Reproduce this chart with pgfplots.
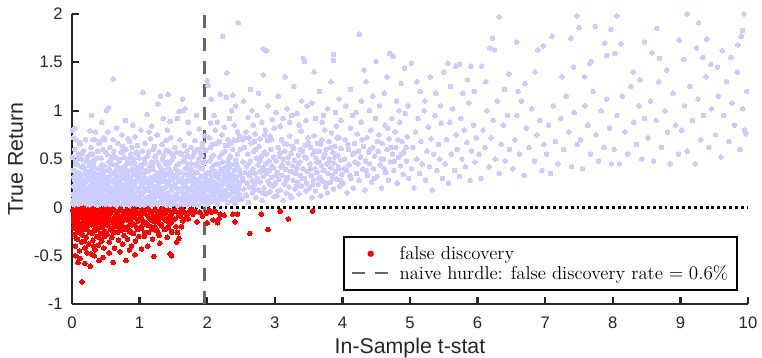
\documentclass[border=0pt]{standalone}
\usepackage{fontspec}
\setsansfont{Liberation Sans}
\usepackage{pgfplots}
\pgfplotsset{compat=1.18}
\definecolor{lav}{RGB}{204,204,255}
\definecolor{axc}{RGB}{38,38,38}
\definecolor{hurdle}{RGB}{102,102,102}
\begin{document}
\begin{tikzpicture}
\useasboundingbox (-54pt,-39.75pt) rectangle (517.5pt,228pt);
\begin{axis}[
  at={(0,0)}, anchor=south west,
  scale only axis, width=507pt, height=217.5pt,
  xmin=0, xmax=10, ymin=-1, ymax=2,
  clip=false,
  axis lines=left,
  axis line style={-, line width=1.7pt, color=axc},
  tick align=inside,
  major tick length=5pt,
  tick style={line width=1.7pt, color=axc},
  xtick={0,1,2,3,4,5,6,7,8,9,10},
  ytick={-1,-0.5,0,0.5,1,1.5,2},
  /pgf/number format/assume math mode=true,
  ticklabel style={font=\sffamily\fontsize{12.5}{14}\selectfont, text=axc},
  xticklabel style={inner sep=0pt, anchor=north, yshift=-9.5pt},
  yticklabel style={inner sep=0pt, anchor=east, xshift=-6.75pt},
  every axis x label/.style={at={([yshift=-25.5pt]axis description cs:0.5,0)}, anchor=north, inner sep=0pt, font=\sffamily\fontsize{16}{18}\selectfont, text=axc},
  every axis y label/.style={at={([xshift=-36.5pt]axis description cs:0,0.5)}, rotate=90, anchor=south, inner sep=0pt, font=\sffamily\fontsize{16}{18}\selectfont, text=axc},
  xlabel={In-Sample t-stat},
  ylabel={True Return},
  legend cell align=left,
  legend style={at={(0.985,0.045)}, anchor=south east, draw=black, line width=1.5pt,
    font=\fontsize{14}{16}\selectfont, inner xsep=5pt, inner ysep=5pt,
    nodes={inner sep=1.5pt}, column sep=5.5pt, row sep=0pt},
]
% ---------- lavender: true return > 0 ----------
\addplot[only marks, color=lav, mark=*, mark size=1.75pt, mark options={draw=lav, fill=lav, line width=0pt}, forget plot] coordinates {
(0.01,0.05) (0.03,0.21) (0.02,0.38) (0.05,0.12) (0.06,0.30) (0.04,0.02) (0.08,0.44) (0.09,0.17) (0.10,0.07) (0.11,0.26) (0.12,0.35) (0.13,0.01) (0.14,0.19) (0.15,0.41) (0.16,0.10) (0.17,0.29) (0.18,0.05) (0.19,0.23) (0.20,0.36) (0.21,0.14) (0.22,0.03) (0.23,0.31) (0.24,0.20) (0.25,0.09) (0.26,0.43) (0.27,0.16) (0.28,0.27) (0.29,0.01) (0.30,0.38) (0.31,0.12) (0.32,0.22) (0.33,0.06) (0.34,0.33) (0.35,0.18) (0.36,0.02) (0.37,0.26) (0.38,0.40) (0.39,0.11) (0.40,0.30) (0.41,0.04) (0.42,0.21) (0.43,0.35) (0.44,0.15) (0.45,0.08) (0.46,0.28) (0.47,0.43) (0.48,0.19) (0.49,0.02)
(0.02,0.14) (0.04,0.28) (0.06,0.08) (0.07,0.36) (0.09,0.25) (0.11,0.02) (0.12,0.15) (0.14,0.32) (0.16,0.23) (0.17,0.06) (0.19,0.39) (0.21,0.27) (0.22,0.11) (0.24,0.02) (0.26,0.33) (0.27,0.07) (0.29,0.18) (0.31,0.29) (0.32,0.42) (0.34,0.10) (0.36,0.24) (0.37,0.15) (0.39,0.34) (0.41,0.17) (0.42,0.06) (0.44,0.26) (0.46,0.12) (0.47,0.37) (0.49,0.24)
(0.03,0.09) (0.05,0.34) (0.08,0.20) (0.10,0.31) (0.13,0.24) (0.15,0.04) (0.18,0.13) (0.20,0.27) (0.23,0.08) (0.25,0.37) (0.28,0.12) (0.30,0.21) (0.33,0.28) (0.35,0.03) (0.38,0.19) (0.40,0.09) (0.43,0.24) (0.45,0.33) (0.48,0.07)
(0.01,0.52) (0.02,0.72) (0.01,0.80) (0.04,0.60) (0.06,0.48) (0.09,0.55) (0.12,0.65) (0.14,0.50) (0.17,0.58) (0.20,0.70) (0.23,0.52) (0.25,0.47) (0.28,0.62) (0.30,0.55) (0.33,0.49) (0.35,0.78) (0.38,0.58) (0.40,0.66) (0.43,0.51) (0.46,0.60) (0.48,0.70) (0.29,0.95) (0.41,0.68) (0.15,0.56) (0.04,0.82) (0.27,0.79) (0.44,0.88) (0.31,0.70) (0.34,0.70) (0.47,0.72) (0.12,0.67) (0.05,0.70)
(0.51,0.12) (0.52,0.31) (0.53,0.03) (0.54,0.22) (0.55,0.40) (0.56,0.15) (0.57,0.27) (0.58,0.07) (0.59,0.36) (0.60,0.19) (0.61,0.01) (0.62,0.29) (0.63,0.44) (0.64,0.11) (0.65,0.24) (0.66,0.05) (0.67,0.33) (0.68,0.17) (0.69,0.41) (0.70,0.09) (0.71,0.26) (0.72,0.02) (0.73,0.37) (0.74,0.14) (0.75,0.30) (0.76,0.21) (0.77,0.06) (0.78,0.43) (0.79,0.16) (0.80,0.28) (0.81,0.03) (0.82,0.35) (0.83,0.12) (0.84,0.23) (0.85,0.46) (0.86,0.08) (0.87,0.31) (0.88,0.18) (0.89,0.39) (0.90,0.04) (0.91,0.25) (0.92,0.14) (0.93,0.34) (0.94,0.07) (0.95,0.42) (0.96,0.20) (0.97,0.29) (0.98,0.10) (0.99,0.37)
(0.51,0.26) (0.53,0.38) (0.55,0.08) (0.56,0.33) (0.58,0.20) (0.60,0.06) (0.62,0.16) (0.63,0.25) (0.65,0.38) (0.67,0.13) (0.68,0.02) (0.70,0.22) (0.72,0.31) (0.73,0.10) (0.75,0.04) (0.77,0.35) (0.78,0.24) (0.80,0.12) (0.82,0.19) (0.84,0.05) (0.85,0.30) (0.87,0.15) (0.88,0.45) (0.90,0.27) (0.92,0.02) (0.93,0.21) (0.95,0.11) (0.97,0.06) (0.98,0.33)
(0.52,0.18) (0.57,0.45) (0.59,0.11) (0.64,0.34) (0.66,0.21) (0.69,0.28) (0.71,0.15) (0.74,0.40) (0.76,0.10) (0.79,0.05) (0.81,0.38) (0.83,0.27) (0.86,0.20) (0.89,0.11) (0.91,0.35) (0.94,0.26) (0.96,0.03) (0.99,0.16)
(0.51,1.00) (0.54,1.03) (0.61,1.33) (0.53,0.78) (0.61,0.70) (0.74,0.75) (0.83,0.71) (0.52,0.55) (0.56,0.62) (0.58,0.50) (0.62,0.58) (0.65,0.52) (0.68,0.66) (0.70,0.48) (0.72,0.57) (0.75,0.63) (0.77,0.52) (0.80,0.60) (0.82,0.49) (0.85,0.68) (0.87,0.55) (0.89,0.62) (0.91,0.50) (0.93,0.73) (0.95,0.57) (0.97,0.64) (0.99,0.51) (0.66,0.82) (0.90,0.85) (0.79,0.90)
(1.01,0.08) (1.02,0.27) (1.03,0.41) (1.04,0.15) (1.05,0.02) (1.06,0.33) (1.07,0.20) (1.08,0.46) (1.09,0.10) (1.10,0.29) (1.11,0.05) (1.12,0.37) (1.13,0.18) (1.14,0.24) (1.15,0.43) (1.16,0.12) (1.17,0.31) (1.18,0.03) (1.19,0.22) (1.20,0.39) (1.21,0.14) (1.22,0.07) (1.23,0.28) (1.24,0.48) (1.25,0.17) (1.26,0.35) (1.27,0.04) (1.28,0.25) (1.29,0.11) (1.30,0.42) (1.31,0.20) (1.32,0.32) (1.33,0.06) (1.34,0.15) (1.35,0.38) (1.36,0.27) (1.37,0.09) (1.38,0.45) (1.39,0.21) (1.40,0.02) (1.41,0.34) (1.42,0.13) (1.43,0.26) (1.44,0.40) (1.45,0.08) (1.46,0.30) (1.47,0.18) (1.48,0.49) (1.49,0.11)
(1.01,0.35) (1.03,0.13) (1.05,0.24) (1.07,0.06) (1.09,0.38) (1.11,0.19) (1.13,0.02) (1.15,0.28) (1.17,0.09) (1.19,0.44) (1.21,0.30) (1.23,0.16) (1.25,0.01) (1.27,0.23) (1.29,0.36) (1.31,0.05) (1.33,0.27) (1.35,0.14) (1.37,0.33) (1.39,0.10) (1.41,0.47) (1.43,0.04) (1.45,0.22) (1.47,0.36) (1.49,0.29)
(1.05,1.19) (1.11,0.96) (1.14,0.78) (1.02,0.80) (1.27,1.07) (1.31,1.15) (1.42,1.17) (1.45,0.89) (1.41,0.80) (1.04,0.58) (1.08,0.66) (1.12,0.53) (1.16,0.71) (1.20,0.60) (1.23,0.52) (1.26,0.75) (1.29,0.57) (1.33,0.65) (1.36,0.54) (1.39,0.69) (1.43,0.58) (1.46,0.72) (1.48,0.55) (1.18,0.84) (1.35,0.92) (1.22,0.63)
(1.51,0.05) (1.52,0.24) (1.53,0.40) (1.54,0.13) (1.55,0.31) (1.56,0.02) (1.57,0.19) (1.58,0.45) (1.59,0.09) (1.60,0.28) (1.61,0.36) (1.62,0.16) (1.63,0.05) (1.64,0.25) (1.65,0.48) (1.66,0.11) (1.67,0.34) (1.68,0.21) (1.69,0.03) (1.70,0.41) (1.71,0.14) (1.72,0.29) (1.73,0.07) (1.74,0.38) (1.75,0.19) (1.76,0.51) (1.77,0.10) (1.78,0.26) (1.79,0.33) (1.80,0.04) (1.81,0.17) (1.82,0.44) (1.83,0.23) (1.84,0.12) (1.85,0.36) (1.86,0.02) (1.87,0.28) (1.88,0.47) (1.89,0.15) (1.90,0.08) (1.91,0.32) (1.92,0.21) (1.93,0.40) (1.94,0.06) (1.95,0.25) (1.97,0.14) (1.98,0.35) (1.99,0.03)
(1.51,0.33) (1.53,0.10) (1.55,0.20) (1.57,0.37) (1.59,0.17) (1.61,0.07) (1.63,0.30) (1.65,0.21) (1.67,0.12) (1.69,0.26) (1.71,0.45) (1.73,0.18) (1.75,0.03) (1.77,0.39) (1.79,0.13) (1.81,0.29) (1.83,0.06) (1.85,0.20) (1.87,0.42) (1.89,0.25) (1.91,0.11) (1.93,0.17) (1.95,0.46) (1.97,0.30) (1.99,0.22)
(1.58,0.99) (1.64,1.12) (1.65,1.00) (1.67,1.02) (1.56,0.92) (1.52,0.62) (1.55,0.57) (1.60,0.70) (1.62,0.55) (1.66,0.64) (1.70,0.58) (1.73,0.77) (1.76,0.62) (1.79,0.54) (1.82,0.69) (1.85,0.60) (1.88,0.81) (1.90,0.56) (1.93,0.66) (1.96,0.74) (1.98,0.59) (1.72,0.88) (1.84,0.95) (1.92,0.53) (1.68,0.52)
(2.01,0.12) (2.02,0.35) (2.03,0.22) (2.04,0.48) (2.05,0.06) (2.06,0.29) (2.07,0.41) (2.08,0.17) (2.09,0.54) (2.10,0.26) (2.11,0.10) (2.12,0.37) (2.13,0.20) (2.14,0.45) (2.15,0.03) (2.16,0.31) (2.17,0.15) (2.18,0.52) (2.19,0.24) (2.20,0.39) (2.21,0.08) (2.22,0.28) (2.23,0.47) (2.24,0.18) (2.25,0.33) (2.26,0.58) (2.27,0.12) (2.28,0.42) (2.29,0.25) (2.30,0.05) (2.31,0.36) (2.32,0.50) (2.33,0.20) (2.34,0.30) (2.35,0.14) (2.36,0.44) (2.37,0.27) (2.38,0.60) (2.39,0.09) (2.40,0.38) (2.41,0.22) (2.42,0.49) (2.43,0.32) (2.44,0.16) (2.45,0.55) (2.46,0.26) (2.47,0.40) (2.48,0.11) (2.49,0.34)
(2.02,0.05) (2.04,0.26) (2.06,0.52) (2.08,0.38) (2.11,0.44) (2.13,0.07) (2.15,0.24) (2.17,0.35) (2.20,0.18) (2.22,0.56) (2.24,0.40) (2.27,0.30) (2.29,0.13) (2.31,0.47) (2.34,0.53) (2.36,0.21) (2.39,0.31) (2.41,0.04) (2.44,0.43) (2.47,0.19) (2.49,0.60)
(2.46,1.91) (2.23,1.77) (2.29,1.39) (2.00,1.31) (2.01,1.26) (2.19,1.17) (2.28,1.14) (2.06,1.12) (2.38,1.16) (2.42,1.05) (2.10,0.95) (2.15,0.88) (2.25,0.83) (2.33,0.92) (2.45,0.78) (2.03,0.72) (2.08,0.65) (2.12,0.80) (2.18,0.68) (2.22,0.75) (2.27,0.64) (2.31,0.70) (2.35,0.66) (2.40,0.85) (2.44,0.69) (2.48,0.74) (2.05,0.87) (2.36,1.00)
(2.51,0.08) (2.52,0.30) (2.53,0.47) (2.54,0.19) (2.55,0.62) (2.56,0.36) (2.57,0.13) (2.58,0.42) (2.59,0.25) (2.60,0.55) (2.61,0.05) (2.62,0.33) (2.63,0.21) (2.64,0.48) (2.65,0.66) (2.66,0.28) (2.67,0.15) (2.68,0.40) (2.69,0.58) (2.70,0.23) (2.71,0.35) (2.72,0.10) (2.73,0.51) (2.74,0.30) (2.75,0.44) (2.76,0.18) (2.77,0.63) (2.78,0.37) (2.79,0.26) (2.80,0.53) (2.81,0.07) (2.82,0.41) (2.83,0.32) (2.84,0.20) (2.85,0.57) (2.86,0.45) (2.87,0.14) (2.88,0.35) (2.89,0.69) (2.90,0.27) (2.91,0.48) (2.92,0.38) (2.93,0.16) (2.94,0.60) (2.95,0.31) (2.96,0.43) (2.97,0.22) (2.98,0.52) (2.99,0.11)
(2.83,1.64) (2.88,1.62) (2.83,1.37) (2.66,1.00) (2.54,1.10) (2.60,0.93) (2.57,0.78) (2.62,0.72) (2.68,0.85) (2.71,0.76) (2.74,0.95) (2.78,0.71) (2.81,0.88) (2.86,0.80) (2.90,1.05) (2.93,0.74) (2.96,0.91) (2.99,0.82) (2.52,0.70) (2.76,1.18) (2.64,1.22)
(3.01,0.25) (3.02,0.48) (3.03,0.12) (3.04,0.36) (3.05,0.62) (3.06,0.29) (3.07,0.53) (3.08,0.18) (3.09,0.42) (3.10,0.70) (3.11,0.33) (3.12,0.07) (3.13,0.50) (3.14,0.24) (3.15,0.58) (3.16,0.39) (3.17,0.15) (3.18,0.65) (3.19,0.31) (3.20,0.46) (3.21,0.21) (3.22,0.74) (3.23,0.37) (3.24,0.56) (3.25,0.10) (3.26,0.43) (3.27,0.28) (3.28,0.61) (3.29,0.49) (3.30,0.19) (3.31,0.35) (3.32,0.68) (3.33,0.41) (3.34,0.26) (3.35,0.54) (3.36,0.14) (3.37,0.47) (3.38,0.33) (3.39,0.79) (3.40,0.22) (3.41,0.58) (3.42,0.40) (3.44,0.30) (3.45,0.64) (3.46,0.17) (3.47,0.51) (3.48,0.37) (3.49,0.72)
(3.42,1.54) (3.44,1.51) (3.05,1.15) (3.12,0.92) (3.18,1.02) (3.22,0.88) (3.28,1.25) (3.33,0.97) (3.36,0.85) (3.40,1.10) (3.46,0.90) (3.08,0.84) (3.15,1.35) (3.25,0.95) (3.48,1.05) (3.02,0.98)
(3.51,0.20) (3.52,0.45) (3.53,0.62) (3.54,0.33) (3.55,0.10) (3.56,0.55) (3.57,0.28) (3.58,0.74) (3.59,0.40) (3.60,0.17) (3.61,0.51) (3.62,0.36) (3.63,0.66) (3.64,0.24) (3.65,0.47) (3.66,0.58) (3.67,0.31) (3.68,0.12) (3.69,0.43) (3.70,0.70) (3.71,0.27) (3.72,0.52) (3.73,0.38) (3.74,0.80) (3.75,0.21) (3.76,0.60) (3.77,0.45) (3.78,0.15) (3.79,0.35) (3.80,0.68) (3.81,0.50) (3.82,0.26) (3.83,0.41) (3.84,0.77) (3.85,0.33) (3.86,0.57) (3.87,0.19) (3.88,0.46) (3.89,0.63) (3.90,0.37) (3.91,0.84) (3.92,0.29) (3.93,0.54) (3.94,0.42) (3.95,0.72) (3.96,0.22) (3.97,0.49) (3.98,0.61) (3.99,0.34)
(3.87,1.58) (3.87,1.52) (3.55,1.08) (3.60,0.92) (3.66,1.20) (3.72,0.95) (3.78,1.02) (3.83,1.30) (3.90,0.98) (3.95,1.12) (3.58,1.40) (3.70,0.88) (3.98,0.90)
(4.01,0.25) (4.03,0.50) (4.04,0.70) (4.06,0.38) (4.07,0.15) (4.09,0.60) (4.10,0.44) (4.12,0.82) (4.13,0.30) (4.15,0.55) (4.16,0.20) (4.18,0.66) (4.19,0.47) (4.21,0.35) (4.22,0.76) (4.24,0.58) (4.25,0.28) (4.27,0.52) (4.28,0.88) (4.30,0.40) (4.31,0.63) (4.33,0.18) (4.34,0.48) (4.36,0.72) (4.37,0.33) (4.39,0.57) (4.40,0.45) (4.42,0.80) (4.43,0.26) (4.45,0.62) (4.46,0.40) (4.48,0.53) (4.49,0.92)
(4.25,1.79) (4.50,1.51) (4.05,1.05) (4.12,1.22) (4.20,0.98) (4.28,1.10) (4.35,1.30) (4.40,1.00) (4.45,1.15) (4.15,0.95) (4.32,1.42)
(4.51,0.32) (4.53,0.58) (4.54,0.75) (4.56,0.44) (4.58,0.20) (4.59,0.66) (4.61,0.50) (4.63,0.85) (4.64,0.36) (4.66,0.60) (4.68,0.28) (4.69,0.71) (4.71,0.47) (4.73,0.92) (4.74,0.55) (4.76,0.38) (4.78,0.78) (4.79,0.62) (4.81,0.25) (4.83,0.52) (4.85,0.88) (4.86,0.43) (4.88,0.68) (4.90,0.34) (4.91,0.57) (4.93,0.97) (4.95,0.48) (4.96,0.73) (4.98,0.30)
(4.70,1.59) (4.75,1.56) (4.92,1.44) (4.55,1.05) (4.62,1.18) (4.80,1.10) (4.87,1.28) (4.97,1.05) (4.66,1.35) (4.84,1.00)
(5.02,0.40) (5.04,0.62) (5.06,0.20) (5.08,0.78) (5.10,0.50) (5.12,0.92) (5.14,0.35) (5.16,0.68) (5.18,0.45) (5.21,1.00) (5.23,0.28) (5.25,0.58) (5.27,0.83) (5.29,0.42) (5.31,0.71) (5.33,0.18) (5.35,0.55) (5.37,0.95) (5.40,0.38) (5.42,0.65) (5.44,0.50) (5.46,0.87) (5.48,0.30)
(5.02,1.49) (5.15,1.20) (5.22,1.10) (5.30,1.35) (5.38,1.18) (5.45,1.05) (5.10,1.30) (5.50,1.40)
(5.52,0.45) (5.54,0.70) (5.57,0.25) (5.59,0.88) (5.61,0.55) (5.63,1.02) (5.66,0.38) (5.68,0.75) (5.70,0.60) (5.73,0.32) (5.75,0.92) (5.77,0.50) (5.80,0.80) (5.82,0.42) (5.84,0.67) (5.87,1.08) (5.89,0.28) (5.91,0.58) (5.94,0.85) (5.96,0.47) (5.98,0.72)
(5.56,1.49) (5.68,1.46) (5.73,1.48) (5.90,1.46) (5.60,1.25) (5.78,1.18) (5.85,1.32) (5.95,1.20)
(6.02,0.55) (6.05,0.30) (6.08,0.80) (6.11,0.62) (6.14,1.00) (6.17,0.42) (6.20,0.72) (6.23,0.90) (6.26,0.50) (6.29,1.10) (6.32,0.35) (6.35,0.65) (6.38,0.85) (6.41,0.48) (6.44,0.95) (6.47,0.60)
(6.32,1.97) (6.18,1.65) (6.25,1.63) (6.22,1.75) (6.06,1.46) (6.12,1.30) (6.40,1.22) (6.46,1.38)
(6.52,0.40) (6.55,0.70) (6.58,0.95) (6.62,0.55) (6.65,1.10) (6.69,0.33) (6.72,0.82) (6.76,0.62) (6.80,1.02) (6.84,0.48) (6.88,0.75) (6.92,0.90) (6.95,0.38) (6.98,0.65)
(6.58,1.71) (6.89,1.63) (6.97,1.67) (6.70,1.28) (6.85,1.40) (6.60,1.20)
(7.02,0.55) (7.05,0.85) (7.08,0.35) (7.12,1.05) (7.15,0.68) (7.19,0.45) (7.23,0.92) (7.27,0.60) (7.31,1.15) (7.35,0.78) (7.39,0.42) (7.43,0.98) (7.47,0.65)
(7.10,1.77) (7.38,1.75) (7.47,1.98) (7.50,1.86) (7.25,1.35) (7.42,1.45)
(7.52,0.70) (7.55,0.40) (7.59,1.05) (7.63,0.85) (7.67,0.55) (7.71,1.20) (7.75,0.75) (7.79,0.48) (7.83,1.00) (7.87,0.62) (7.91,1.12) (7.95,0.82) (7.98,0.45)
(7.74,1.87) (7.97,1.84) (7.68,1.51) (7.66,1.49) (7.88,1.70) (7.91,1.57) (7.58,1.35)
(8.02,0.60) (8.06,0.95) (8.10,0.45) (8.14,1.15) (8.18,0.78) (8.22,0.55) (8.27,1.25) (8.31,0.88) (8.35,0.65) (8.39,1.05) (8.43,0.50) (8.47,0.92)
(8.06,1.98) (8.03,1.59) (8.12,1.69) (8.47,1.71) (8.30,1.40) (8.40,1.32)
(8.52,0.72) (8.56,1.10) (8.60,0.48) (8.64,0.90) (8.68,1.30) (8.72,0.62) (8.77,1.00) (8.81,0.78) (8.85,0.45) (8.89,1.18) (8.93,0.85) (8.97,0.55)
(8.65,1.85) (8.69,1.54) (8.98,1.73) (9.05,1.53) (8.80,1.42) (8.58,1.60)
(9.02,0.80) (9.06,1.05) (9.10,0.58) (9.14,1.25) (9.18,0.90) (9.22,0.45) (9.26,1.12) (9.30,0.70) (9.34,0.95) (9.38,1.35) (9.42,0.62) (9.46,1.02)
(9.10,2.00) (9.27,1.91) (9.39,1.74) (9.24,1.65) (9.33,1.55) (9.45,1.48)
(9.52,0.75) (9.56,1.15) (9.60,0.52) (9.64,0.95) (9.68,1.30) (9.72,0.68) (9.76,1.08) (9.80,0.85) (9.84,1.40) (9.88,0.60) (9.92,1.02) (9.96,0.78) (9.98,1.20)
(9.94,2.00) (9.92,1.83) (9.90,1.77) (9.62,1.62) (9.75,1.55) (9.85,1.68) (9.55,1.45) (9.95,0.80) (9.97,0.76)
(0.025,0.04) (0.025,0.13) (0.025,0.22) (0.025,0.31) (0.075,0.08) (0.075,0.17) (0.075,0.27) (0.075,0.36) (0.125,0.02) (0.125,0.11) (0.125,0.20) (0.125,0.29) (0.175,0.06) (0.175,0.15) (0.175,0.25) (0.175,0.40) (0.225,0.03) (0.225,0.09) (0.225,0.19) (0.225,0.33)
(0.275,0.04) (0.275,0.13) (0.275,0.22) (0.275,0.31) (0.325,0.08) (0.325,0.17) (0.325,0.27) (0.325,0.36) (0.375,0.02) (0.375,0.11) (0.375,0.20) (0.375,0.29) (0.425,0.06) (0.425,0.15) (0.425,0.25) (0.425,0.40) (0.475,0.03) (0.475,0.09) (0.475,0.19) (0.475,0.33)
(0.525,0.04) (0.525,0.13) (0.525,0.22) (0.525,0.31) (0.575,0.08) (0.575,0.17) (0.575,0.27) (0.575,0.36) (0.625,0.02) (0.625,0.11) (0.625,0.20) (0.625,0.29) (0.675,0.06) (0.675,0.15) (0.675,0.25) (0.675,0.40) (0.725,0.03) (0.725,0.09) (0.725,0.19) (0.725,0.33)
(0.775,0.04) (0.775,0.13) (0.775,0.22) (0.775,0.31) (0.825,0.08) (0.825,0.17) (0.825,0.27) (0.825,0.36) (0.875,0.02) (0.875,0.11) (0.875,0.20) (0.875,0.29) (0.925,0.06) (0.925,0.15) (0.925,0.25) (0.925,0.40) (0.975,0.03) (0.975,0.09) (0.975,0.19) (0.975,0.33)
(1.025,0.04) (1.025,0.13) (1.025,0.22) (1.025,0.31) (1.075,0.08) (1.075,0.17) (1.075,0.27) (1.075,0.36) (1.125,0.02) (1.125,0.11) (1.125,0.20) (1.125,0.29) (1.175,0.06) (1.175,0.15) (1.175,0.25) (1.175,0.40) (1.225,0.03) (1.225,0.09) (1.225,0.19) (1.225,0.33)
(1.275,0.04) (1.275,0.13) (1.275,0.22) (1.275,0.31) (1.325,0.08) (1.325,0.17) (1.325,0.27) (1.325,0.36) (1.375,0.02) (1.375,0.11) (1.375,0.20) (1.375,0.29) (1.425,0.06) (1.425,0.15) (1.425,0.25) (1.425,0.40) (1.475,0.03) (1.475,0.09) (1.475,0.19) (1.475,0.33)
(1.525,0.04) (1.525,0.13) (1.525,0.22) (1.525,0.31) (1.575,0.08) (1.575,0.17) (1.575,0.27) (1.575,0.36) (1.625,0.02) (1.625,0.11) (1.625,0.20) (1.625,0.29) (1.675,0.06) (1.675,0.15) (1.675,0.25) (1.675,0.40) (1.725,0.03) (1.725,0.09) (1.725,0.19) (1.725,0.33)
(1.775,0.04) (1.775,0.13) (1.775,0.22) (1.775,0.31) (1.825,0.08) (1.825,0.17) (1.825,0.27) (1.825,0.36) (1.875,0.02) (1.875,0.11) (1.875,0.20) (1.875,0.29) (1.925,0.06) (1.925,0.15) (1.925,0.25) (1.925,0.40) (1.975,0.03) (1.975,0.09) (1.975,0.19) (1.975,0.33)
(2.025,0.09) (2.025,0.18) (2.025,0.27) (2.025,0.36) (2.075,0.13) (2.075,0.22) (2.075,0.32) (2.075,0.41) (2.125,0.07) (2.125,0.16) (2.125,0.25) (2.125,0.34) (2.175,0.11) (2.175,0.20) (2.175,0.30) (2.175,0.45) (2.225,0.08) (2.225,0.14) (2.225,0.24) (2.225,0.38)
(2.275,0.09) (2.275,0.18) (2.275,0.27) (2.275,0.36) (2.325,0.13) (2.325,0.22) (2.325,0.32) (2.325,0.41) (2.375,0.07) (2.375,0.16) (2.375,0.25) (2.375,0.34) (2.425,0.11) (2.425,0.20) (2.425,0.30) (2.425,0.45) (2.475,0.08) (2.475,0.14) (2.475,0.24) (2.475,0.38)
(0.05,0.45) (0.10,0.52) (0.16,0.43) (0.21,0.48) (0.27,0.55) (0.32,0.46) (0.37,0.51) (0.44,0.44) (0.50,0.57) (0.55,0.47) (0.60,0.53) (0.66,0.44) (0.71,0.50) (0.76,0.58) (0.81,0.45) (0.86,0.52) (0.92,0.47) (0.97,0.55) (1.02,0.44) (1.07,0.50) (1.13,0.57) (1.18,0.47) (1.23,0.53) (1.28,0.45) (1.34,0.50) (1.39,0.59) (1.44,0.46) (1.50,0.52) (1.55,0.44) (1.60,0.56) (1.66,0.49) (1.71,0.53) (1.76,0.45) (1.81,0.57) (1.87,0.50) (1.92,0.62) (1.97,0.48) (2.05,0.62) (2.15,0.66) (2.30,0.64) (2.40,0.70) (2.55,0.72) (2.70,0.68) (2.85,0.75)
(2.53,0.28) (2.58,0.12) (2.61,0.45) (2.64,0.36) (2.69,0.18) (2.72,0.60) (2.75,0.27) (2.78,0.48) (2.82,0.15) (2.85,0.38) (2.88,0.55) (2.92,0.24) (2.95,0.70) (2.98,0.41)
(3.02,0.33) (3.05,0.17) (3.08,0.57) (3.11,0.44) (3.14,0.66) (3.17,0.28) (3.20,0.52) (3.23,0.12) (3.26,0.63) (3.29,0.36) (3.32,0.22) (3.35,0.45) (3.38,0.60) (3.41,0.30) (3.44,0.52) (3.47,0.25) (3.50,0.66)
(3.53,0.40) (3.56,0.23) (3.59,0.58) (3.62,0.47) (3.65,0.30) (3.68,0.65) (3.71,0.38) (3.74,0.55) (3.77,0.25) (3.80,0.47) (3.83,0.62) (3.86,0.30) (3.89,0.52) (3.92,0.72) (3.95,0.40) (3.98,0.28)
(4.03,0.40) (4.08,0.65) (4.11,0.33) (4.17,0.56) (4.23,0.45) (4.29,0.70) (4.35,0.38) (4.41,0.60) (4.47,0.30) (4.52,0.68) (4.57,0.50) (4.62,0.40) (4.67,0.82) (4.72,0.62) (4.77,0.48) (4.82,0.70) (4.87,0.55) (4.94,0.62)
};
% ---------- red: false discoveries (true return <= 0) ----------
\addplot[only marks, color=red, mark=*, mark size=1.75pt, mark options={draw=red, fill=red, line width=0pt},
  legend image code/.code={\path[draw=none,fill=none] (0pt,0pt) -- (27.75pt,0pt); \fill[red] (13.9pt,0pt) circle (1.6pt);}] coordinates {
(0.01,-0.03) (0.02,-0.15) (0.03,-0.28) (0.04,-0.08) (0.05,-0.40) (0.06,-0.19) (0.07,-0.02) (0.08,-0.33) (0.09,-0.12) (0.10,-0.25) (0.11,-0.45) (0.12,-0.06) (0.13,-0.21) (0.14,-0.36) (0.15,-0.10) (0.16,-0.29) (0.17,-0.01) (0.18,-0.17) (0.19,-0.42) (0.20,-0.08) (0.21,-0.31) (0.22,-0.23) (0.23,-0.04) (0.24,-0.14) (0.25,-0.38) (0.26,-0.26) (0.27,-0.09) (0.28,-0.48) (0.29,-0.18) (0.30,-0.02) (0.31,-0.34) (0.32,-0.12) (0.33,-0.24) (0.34,-0.44) (0.35,-0.06) (0.36,-0.20) (0.37,-0.30) (0.38,-0.11) (0.39,-0.39) (0.40,-0.03) (0.41,-0.16) (0.42,-0.27) (0.43,-0.08) (0.44,-0.35) (0.45,-0.21) (0.46,-0.13) (0.47,-0.42) (0.48,-0.05) (0.49,-0.25)
(0.02,-0.06) (0.04,-0.22) (0.06,-0.32) (0.08,-0.11) (0.10,-0.04) (0.12,-0.17) (0.14,-0.27) (0.16,-0.07) (0.18,-0.35) (0.20,-0.21) (0.22,-0.13) (0.24,-0.03) (0.26,-0.16) (0.28,-0.07) (0.30,-0.27) (0.32,-0.40) (0.34,-0.09) (0.36,-0.14) (0.38,-0.23) (0.40,-0.31) (0.42,-0.05) (0.44,-0.18) (0.46,-0.02) (0.48,-0.30)
(0.15,-0.77) (0.09,-0.57) (0.27,-0.61) (0.19,-0.58) (0.40,-0.55) (0.46,-0.52) (0.05,-0.50) (0.12,-0.53) (0.33,-0.50) (0.22,-0.47)
(0.51,-0.10) (0.52,-0.28) (0.53,-0.03) (0.54,-0.19) (0.55,-0.36) (0.56,-0.07) (0.57,-0.23) (0.58,-0.13) (0.59,-0.31) (0.60,-0.02) (0.62,-0.17) (0.63,-0.42) (0.64,-0.09) (0.65,-0.26) (0.66,-0.05) (0.68,-0.20) (0.69,-0.34) (0.70,-0.12) (0.71,-0.02) (0.72,-0.24) (0.74,-0.15) (0.75,-0.38) (0.76,-0.06) (0.77,-0.29) (0.78,-0.11) (0.80,-0.21) (0.81,-0.03) (0.82,-0.33) (0.84,-0.14) (0.85,-0.25) (0.86,-0.07) (0.88,-0.40) (0.89,-0.18) (0.90,-0.02) (0.91,-0.27) (0.93,-0.10) (0.94,-0.35) (0.95,-0.20) (0.96,-0.05) (0.98,-0.14) (0.99,-0.30)
(0.53,-0.15) (0.57,-0.05) (0.61,-0.26) (0.65,-0.13) (0.69,-0.04) (0.73,-0.18) (0.79,-0.08) (0.83,-0.22) (0.87,-0.12) (0.92,-0.04) (0.97,-0.23)
(0.61,-0.57) (0.71,-0.46) (0.80,-0.55) (0.93,-0.49) (0.55,-0.47) (0.85,-0.44)
(1.01,-0.08) (1.02,-0.22) (1.04,-0.03) (1.05,-0.15) (1.07,-0.30) (1.08,-0.06) (1.10,-0.18) (1.11,-0.02) (1.13,-0.26) (1.14,-0.11) (1.16,-0.04) (1.17,-0.20) (1.19,-0.33) (1.20,-0.09) (1.22,-0.15) (1.23,-0.02) (1.25,-0.24) (1.26,-0.07) (1.28,-0.13) (1.29,-0.29) (1.31,-0.04) (1.32,-0.19) (1.34,-0.10) (1.35,-0.02) (1.37,-0.23) (1.38,-0.06) (1.40,-0.14) (1.41,-0.31) (1.43,-0.03) (1.44,-0.17) (1.46,-0.08) (1.47,-0.25) (1.49,-0.12)
(1.21,-0.51) (1.45,-0.48) (1.47,-0.50) (1.12,-0.40) (1.30,-0.37) (1.03,-0.43)
(1.51,-0.04) (1.52,-0.12) (1.54,-0.20) (1.55,-0.36) (1.57,-0.06) (1.58,-0.32) (1.60,-0.09) (1.62,-0.02) (1.64,-0.14) (1.66,-0.05) (1.69,-0.10) (1.72,-0.12) (1.75,-0.03) (1.79,-0.07) (1.82,-0.04) (1.85,-0.15) (1.89,-0.05) (1.93,-0.09) (1.99,-0.06)
(2.00,-0.16) (2.06,-0.05) (2.09,-0.13) (2.15,-0.16) (2.17,-0.12) (2.19,-0.07) (2.25,-0.08) (2.38,-0.07) (2.41,-0.15) (2.45,-0.07) (2.63,-0.27) (2.80,-0.07) (2.90,-0.23) (3.08,-0.04) (3.20,-0.12) (3.56,-0.04) (2.03,-0.03) (2.12,-0.04)
(0.025,-0.03) (0.025,-0.11) (0.025,-0.20) (0.075,-0.06) (0.075,-0.15) (0.075,-0.26) (0.125,-0.02) (0.125,-0.09) (0.125,-0.18) (0.175,-0.05) (0.175,-0.13) (0.175,-0.23)
(0.225,-0.03) (0.225,-0.11) (0.225,-0.20) (0.275,-0.06) (0.275,-0.15) (0.275,-0.26) (0.325,-0.02) (0.325,-0.09) (0.325,-0.18) (0.375,-0.05) (0.375,-0.13) (0.375,-0.23)
(0.425,-0.03) (0.425,-0.11) (0.425,-0.20) (0.475,-0.06) (0.475,-0.15) (0.475,-0.26) (0.525,-0.02) (0.525,-0.09) (0.525,-0.18) (0.575,-0.05) (0.575,-0.13) (0.575,-0.23)
(0.625,-0.03) (0.625,-0.11) (0.625,-0.20) (0.675,-0.06) (0.675,-0.15) (0.675,-0.26) (0.725,-0.02) (0.725,-0.09) (0.725,-0.18) (0.775,-0.05) (0.775,-0.13) (0.775,-0.23)
(0.825,-0.03) (0.825,-0.11) (0.825,-0.20) (0.875,-0.06) (0.875,-0.15) (0.875,-0.26) (0.925,-0.02) (0.925,-0.09) (0.925,-0.18) (0.975,-0.05) (0.975,-0.13) (0.975,-0.23)
(1.025,-0.03) (1.025,-0.11) (1.025,-0.20) (1.075,-0.06) (1.075,-0.15) (1.075,-0.26) (1.125,-0.02) (1.125,-0.09) (1.125,-0.18) (1.175,-0.05) (1.175,-0.13) (1.175,-0.23)
(1.225,-0.03) (1.225,-0.11) (1.225,-0.20) (1.275,-0.06) (1.275,-0.15) (1.275,-0.26) (1.325,-0.02) (1.325,-0.09) (1.325,-0.18) (1.375,-0.05) (1.375,-0.13) (1.375,-0.23)
(1.425,-0.03) (1.425,-0.11) (1.425,-0.20) (1.475,-0.06) (1.475,-0.15) (1.475,-0.26)
(1.525,-0.03) (1.575,-0.08) (1.625,-0.05) (1.675,-0.12) (1.725,-0.06) (1.775,-0.02) (1.62,-0.20) (1.56,-0.26)
};
\addlegendentry{false discovery}
% ---------- zero line ----------
\addplot[black, line width=1.8pt, dash pattern=on 2.2pt off 2.2pt, forget plot] coordinates {(0,0) (10,0)};
% ---------- naive hurdle ----------
\addplot[hurdle, line width=1.8pt, dash pattern=on 9.75pt off 7.5pt,
  legend image code/.code={\draw[hurdle, line width=1.8pt, dash pattern=on 9.75pt off 7.5pt] (0pt,0pt) -- (27.75pt,0pt);}] coordinates {(1.96,-1) (1.96,2)};
\addlegendentry{naive hurdle: false discovery rate $= 0.6\%$}
\end{axis}
\end{tikzpicture}
\end{document}
